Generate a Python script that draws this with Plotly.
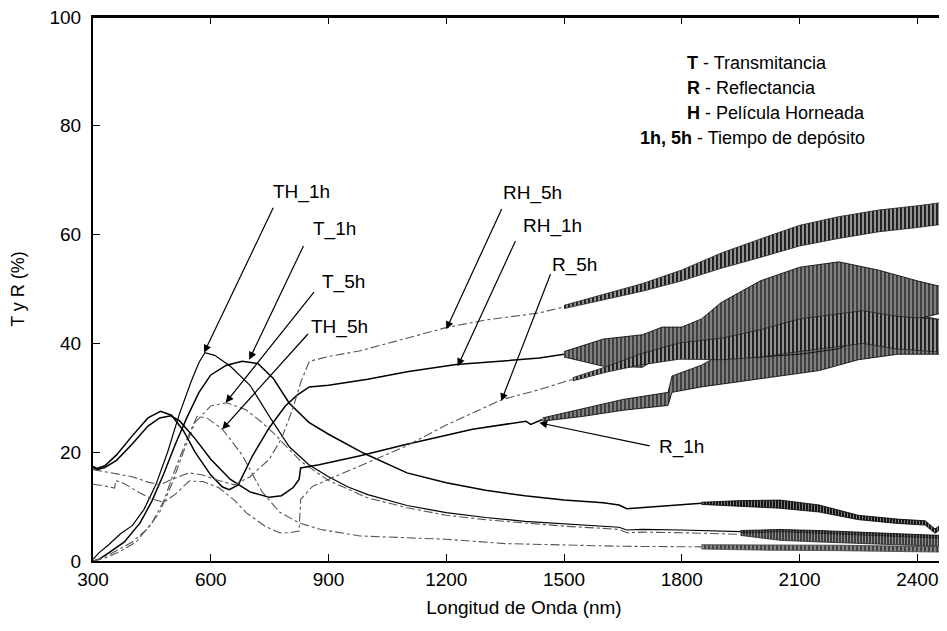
import plotly.graph_objects as go

# ---------------- Transmitancia ----------------
t1h_wl = [300, 315, 340, 380, 420, 450, 480, 510, 540, 570, 600, 640, 680, 720, 760, 800, 850, 900,
          990, 1100, 1200, 1300, 1400, 1500, 1600, 1640, 1660, 1700, 1800, 1850]
t1h_val = [0, 0.3, 1.5, 3.5, 7, 11, 16, 21.5, 26.5, 31, 34.2, 36, 36.7, 36.3, 33.5, 29, 25.5, 23.3,
           19.8, 16.2, 14.4, 13, 12, 11.2, 10.7, 10.3, 9.6, 9.8, 10.3, 10.6]
t1h_osc_wl = [1850, 1950, 2050, 2150, 2250, 2350, 2420, 2445, 2475, 2495]
t1h_osc_lo = [10.4, 10.1, 9.7, 9.0, 7.6, 6.9, 6.6, 5.1, 6.6, 6.8]
t1h_osc_hi = [10.8, 11.1, 11.2, 10.3, 8.4, 7.7, 7.4, 5.9, 7.4, 7.6]

th1h_wl = [300, 315, 340, 370, 400, 430, 460, 490, 520, 550, 570, 585, 610, 650, 700, 750, 800, 850,
           900, 950, 1000, 1100, 1200, 1300, 1400, 1500, 1600, 1640, 1660, 1700, 1800, 1900, 1950]
th1h_val = [0.3, 1.5, 3, 5, 6.5, 9.5, 14, 20, 27, 33, 36.5, 38.3, 37.8, 35.8, 32.3, 26.5, 21, 17.7,
            15.5, 13.6, 12.2, 10.2, 8.9, 8.0, 7.3, 6.8, 6.4, 6.2, 5.7, 5.8, 5.7, 5.5, 5.4]
th1h_osc_wl = [1950, 2050, 2150, 2250, 2350, 2475, 2495]
th1h_osc_lo = [5.2, 4.4, 4.0, 3.7, 3.4, 3.1, 3.1]
th1h_osc_hi = [5.6, 5.8, 5.6, 5.3, 5.0, 4.7, 4.6]

t5h_wl = [300, 320, 350, 400, 440, 470, 500, 530, 560, 600, 640, 690, 730, 760, 800, 830, 860, 900,
          1000, 1100, 1200, 1300, 1400, 1500, 1600, 1640, 1660, 1700, 1800, 1900, 1950]
t5h_val = [0, 0.5, 1.5, 3.5, 6, 9, 14, 20, 25.5, 28.5, 29.1, 27.8, 25.5, 23.5, 20.5, 18.3, 16.8, 14.8,
           11.6, 9.8, 8.4, 7.6, 7, 6.4, 6.0, 5.8, 5.2, 5.3, 5.2, 5.0, 4.9]
t5h_osc_wl = [1950, 2050, 2150, 2250, 2350, 2475, 2495]
t5h_osc_lo = [4.7, 3.8, 3.5, 3.2, 2.9, 2.6, 2.6]
t5h_osc_hi = [5.1, 5.4, 5.1, 4.8, 4.5, 4.2, 4.1]

th5h_wl = [300, 330, 370, 410, 450, 480, 510, 540, 565, 590, 630, 680, 730, 775, 825, 880, 980,
           1100, 1200, 1350, 1500, 1650, 1850]
th5h_val = [0, 0.5, 1.8, 3.5, 7, 11, 17, 22.5, 26.6, 26.3, 24.2, 19.5, 12.8, 9, 7, 5.8, 4.6,
            4.3, 4.0, 3.2, 2.9, 2.7, 2.6]
th5h_osc_wl = [1850, 2000, 2200, 2400, 2495]
th5h_osc_lo = [2.2, 2.0, 1.9, 1.7, 1.6]
th5h_osc_hi = [3.0, 3.0, 2.9, 2.7, 2.6]

# ---------------- Reflectancia ----------------
r1h_wl = [300, 310, 330, 360, 400, 440, 470, 498, 520, 560, 600, 650, 700, 749, 780, 810, 825, 829,
          876, 978, 1097, 1267, 1403, 1415, 1445]
r1h_val = [17.2, 16.8, 17.2, 18.5, 21.5, 24.8, 26.3, 26.7, 25.8, 22.5, 18.7, 15, 12.7, 11.7, 12, 13.5, 15, 17.1,
           17.7, 19.3, 21.4, 24.2, 25.7, 25.1, 26]
r1h_osc_wl = [1445, 1550, 1650, 1765, 1775, 1850, 1950, 2050, 2150, 2250, 2350, 2475, 2495]
r1h_osc_lo = [25.7, 26.6, 27.7, 28.6, 31.0, 32.0, 33.0, 34.0, 35.0, 37.0, 38.0, 38.0, 38.0]
r1h_osc_hi = [26.3, 28.0, 29.7, 31.0, 34.0, 36.0, 40.0, 44.0, 47.0, 48.0, 46.0, 44.0, 43.8]

rh1h_wl = [300, 310, 330, 360, 400, 440, 472, 500, 530, 560, 600, 630, 647, 670, 706, 749, 790, 820,
           851, 900, 1000, 1100, 1225, 1350, 1437, 1500]
rh1h_val = [17.4, 17, 17.5, 19.5, 23, 26.3, 27.5, 26.8, 24, 20, 15.8, 13.6, 13.1, 14, 19.3, 24.5, 28.5, 30.5,
            32, 32.3, 33.4, 34.8, 36.1, 36.8, 37.3, 38]
rh1h_osc_wl = [1500, 1550, 1600, 1700, 1750, 1800, 1850, 1900, 2000, 2100, 2200, 2300, 2400, 2475, 2495]
rh1h_osc_lo = [37.5, 36.6, 35.8, 35.6, 38.0, 40.0, 39.5, 37.5, 37.5, 38.0, 39.0, 42.5, 44.5, 45.8, 46.0]
rh1h_osc_hi = [38.5, 39.6, 40.8, 41.6, 43.0, 43.0, 44.5, 47.5, 51.5, 54.0, 55.0, 53.5, 51.5, 50.2, 50.0]

r5h_wl = [300, 330, 355, 358, 380, 420, 450, 480, 510, 545, 580, 620, 660, 690, 740, 775, 800, 825, 829,
          859, 919, 978, 1097, 1200, 1343, 1437, 1522]
r5h_val = [14.1, 13.8, 13.4, 14.8, 14.2, 12.5, 11.4, 10.8, 12.3, 14.7, 14.6, 13.5, 11.2, 8.9, 6.3, 5.2, 5.2, 5.5, 11.3,
           13.7, 15.6, 17.4, 21.1, 25, 29.7, 31.5, 33.4]
r5h_osc_wl = [1522, 1607, 1692, 1794, 1904, 2000, 2100, 2261, 2347, 2475, 2495]
r5h_osc_lo = [33.1, 34.7, 36.0, 37.1, 37.0, 37.5, 38.5, 40.0, 39.0, 38.3, 38.2]
r5h_osc_hi = [33.7, 35.7, 38.0, 40.1, 41.0, 42.5, 44.5, 46.0, 45.0, 44.3, 44.2]

rh5h_wl = [300, 340, 400, 440, 470, 500, 545, 580, 620, 660, 700, 749, 780, 808, 830, 851, 900, 978,
           1100, 1199, 1300, 1437, 1500]
rh5h_val = [16.8, 16.3, 15.5, 14.5, 14, 15, 16.2, 15.8, 14.8, 14, 15.5, 18.7, 22.5, 27.8, 33, 36.7, 37.6, 38.6,
            41, 42.9, 44.3, 45.6, 46.7]
rh5h_osc_wl = [1500, 1600, 1700, 1800, 1900, 2000, 2100, 2200, 2300, 2400, 2475, 2495]
rh5h_osc_lo = [46.4, 48.0, 49.6, 51.5, 53.8, 55.8, 57.9, 59.3, 60.5, 61.3, 62.0, 62.2]
rh5h_osc_hi = [47.0, 49.0, 51.0, 53.5, 56.6, 59.2, 61.7, 63.3, 64.5, 65.3, 66.0, 66.2]

# ---------------- curve labels and arrows ----------------
labels = ["TH_1h", "T_1h", "T_5h", "TH_5h", "RH_5h", "RH_1h", "R_5h", "R_1h"]
lab_x = [830, 914, 937, 927, 1419, 1470, 1526, 1800]
lab_y = [67.9, 61.1, 51.2, 43.1, 67.7, 61.5, 54.5, 20.9]
tail_x = [761, 838, 866, 851, 1343, 1378, 1467, 1722]
tail_y = [65.2, 58.2, 49.7, 42.0, 65.0, 59.1, 53.0, 21.1]
tip_x = [583, 698, 638, 629, 1200, 1229, 1340, 1437]
tip_y = [38.3, 37.0, 29.1, 24.2, 42.6, 35.8, 29.4, 25.4]

FONT = "Liberation Sans, Arial, sans-serif"
SOLID = dict(color="black", width=1.5)
DASHED = dict(color="#555555", width=1.1, dash="dashdot")

fig = go.Figure()


def add_curve(wl, val, line, osc_wl=None, lo=None, hi=None, ink="black", solidity=0.5, size=4):
    fig.add_trace(go.Scatter(x=wl, y=val, mode="lines", line=line, hoverinfo="skip"))
    if osc_wl:
        fig.add_trace(go.Scatter(x=osc_wl, y=hi, mode="lines",
                                 line=dict(color=ink, width=0.8), hoverinfo="skip"))
        fig.add_trace(go.Scatter(x=osc_wl, y=lo, mode="lines", fill="tonexty",
                                 line=dict(color=ink, width=0.8), fillcolor=ink,
                                 fillpattern=dict(shape="|", size=size, solidity=solidity),
                                 hoverinfo="skip"))


add_curve(t1h_wl, t1h_val, SOLID, t1h_osc_wl, t1h_osc_lo, t1h_osc_hi, solidity=0.45, size=3)
add_curve(th1h_wl, th1h_val, dict(color="black", width=1.2), th1h_osc_wl, th1h_osc_lo, th1h_osc_hi,
          solidity=0.5, size=3)
add_curve(t5h_wl, t5h_val, DASHED, t5h_osc_wl, t5h_osc_lo, t5h_osc_hi, ink="#222222", solidity=0.5, size=3)
add_curve(th5h_wl, th5h_val, DASHED, th5h_osc_wl, th5h_osc_lo, th5h_osc_hi, ink="#444444", solidity=0.35, size=4)
add_curve(r1h_wl, r1h_val, SOLID, r1h_osc_wl, r1h_osc_lo, r1h_osc_hi, solidity=0.75, size=4)
add_curve(rh1h_wl, rh1h_val, SOLID, rh1h_osc_wl, rh1h_osc_lo, rh1h_osc_hi, solidity=0.75, size=4)
add_curve(r5h_wl, r5h_val, DASHED, r5h_osc_wl, r5h_osc_lo, r5h_osc_hi, ink="#222222", solidity=0.5, size=4)
add_curve(rh5h_wl, rh5h_val, DASHED, rh5h_osc_wl, rh5h_osc_lo, rh5h_osc_hi, ink="#222222", solidity=0.5, size=4)

for i in range(len(labels)):
    fig.add_annotation(x=tip_x[i], y=tip_y[i], ax=tail_x[i], ay=tail_y[i], axref="x", ayref="y",
                       text="", showarrow=True, arrowhead=2, arrowsize=1.3, arrowwidth=1.2,
                       arrowcolor="black")
    fig.add_annotation(x=lab_x[i], y=lab_y[i], text=labels[i], showarrow=False,
                       font=dict(family=FONT, size=19, color="black"))

key_lines = ["<b>T</b> - Transmitancia", "<b>R</b> - Reflectancia",
             "<b>H</b> - Película Horneada", "<b>1h, 5h</b> - Tiempo de depósito"]
key_x = [0.687, 0.687, 0.687, 0.632]
key_y = [0.916, 0.870, 0.823, 0.777]
for txt, kx, ky in zip(key_lines, key_x, key_y):
    fig.add_annotation(x=kx, y=ky, xref="paper", yref="paper", text=txt, showarrow=False,
                       xanchor="left", yanchor="middle",
                       font=dict(family=FONT, size=18, color="black"))

# top border of the frame
fig.add_shape(type="line", xref="paper", yref="paper", x0=0, x1=1, y0=1, y1=1,
              line=dict(color="black", width=2))

# the page body adds an 8px offset, so margins are shifted by that amount;
# the plot runs past the right edge of the window like the cropped original
fig.update_layout(
    width=947, height=631,
    margin=dict(l=85, r=0, t=9, b=78, autoexpand=False),
    paper_bgcolor="white", plot_bgcolor="white",
    showlegend=False,
    font=dict(family=FONT, size=19, color="black"),
)
fig.update_xaxes(
    range=[300, 2496], tickvals=[300, 600, 900, 1200, 1500, 1800, 2100, 2400],
    ticks="inside", ticklen=7, tickwidth=1.2, tickcolor="black",
    showline=True, linecolor="black", linewidth=2, mirror="ticks",
    showgrid=False, zeroline=False, automargin=False, ticklabeloverflow="allow",
    tickfont=dict(family=FONT, size=19),
    title=dict(text="Longitud de Onda (nm)", font=dict(family=FONT, size=19), standoff=12),
)
fig.update_yaxes(
    range=[0, 100], tickvals=[0, 20, 40, 60, 80, 100],
    ticks="inside", ticklen=7, tickwidth=1.2, tickcolor="black",
    showline=True, linecolor="black", linewidth=2, mirror=False,
    showgrid=False, zeroline=False, automargin=False, ticklabeloverflow="allow",
    tickfont=dict(family=FONT, size=19), ticklabelstandoff=6,
    title=dict(text="T y R (%)", font=dict(family=FONT, size=18), standoff=20),
)

fig.write_html("out.html")
